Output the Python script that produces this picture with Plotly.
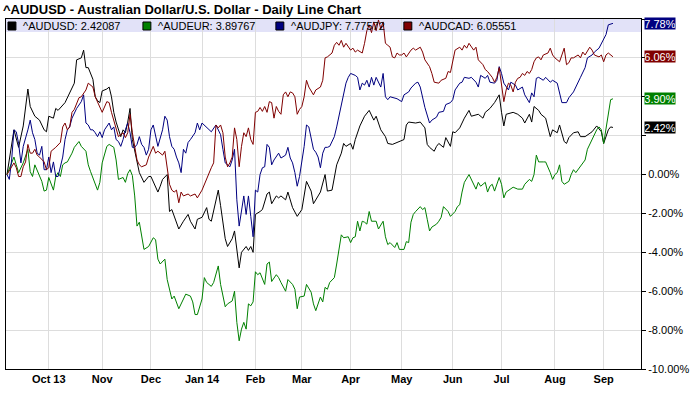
import plotly.graph_objects as go
import pandas as pd

# ---------------- data ----------------
start_date = "2013-09-05"
n_days = 262

month_ticks = ["2013-10", "2013-11", "2013-12", "2014-01", "2014-02", "2014-03",
               "2014-04", "2014-05", "2014-06", "2014-07", "2014-08", "2014-09"]
month_labels = ["Oct 13", "Nov", "Dec", "Jan 14", "Feb", "Mar",
                "Apr", "May", "Jun", "Jul", "Aug", "Sep"]

y_ticks = [-10, -8, -6, -4, -2, 0, 2, 4, 6, 8]
y_labels = ["-10.00%", "-8.00%", "-6.00%", "-4.00%", "-2.00%", "0.00%", "", "", "", ""]

names = ["^AUDUSD", "^AUDEUR", "^AUDJPY", "^AUDCAD"]
last_values = [2.42087, 3.89767, 7.77572, 6.05551]
colors = ["#000000", "#008000", "#000080", "#800000"]

# (trading-day index, % change)
audusd = [(0,0.0),(3,2.3),(5,1.4),(7,2.5),(9,4.4),(10,3.5),(12,3.0),(14,2.8),(16,2.3),(17,2.2),(18,3.0),(20,2.9),
          (21,3.4),(22,3.3),(25,3.7),(27,4.2),(29,4.7),(30,5.9),(32,6.0),(33,6.4),(34,5.5),(35,5.5),(36,5.2),(37,4.9),
          (38,4.0),(39,3.8),(40,3.7),(41,4.3),(43,4.4),(44,4.5),(45,4.0),(46,3.2),(47,2.7),(49,1.95),(50,2.3),(51,2.15),
          (52,2.7),(53,3.4),(54,1.8),(56,0.6),(57,0.1),(59,-0.4),(61,-0.1),(62,-0.1),(65,-0.9),(66,-0.6),(67,-0.25),
          (69,0.0),(70,-1.9),(71,-1.8),(74,-2.8),(76,-2.4),(78,-2.05),(79,-2.4),(81,-2.8),(82,-2.3),(84,-2.2),(86,-1.7),
          (87,-2.3),(88,-2.4),(91,-0.8),(92,-1.6),(94,-3.3),(95,-3.7),(97,-3.3),(98,-2.9),(100,-4.8),(101,-4.0),
          (103,-3.7),(104,-3.9),(105,-3.7),(106,-4.0),(107,-2.05),(109,-1.9),(110,-1.8),(112,-1.0),(113,-0.9),
          (114,-1.5),(116,-1.1),(117,-1.2),(118,-1.1),(120,-1.3),(121,-0.9),(123,-1.7),(125,-2.15),(127,-1.8),
          (129,-0.35),(131,-0.85),(132,-1.5),(134,-1.1),(135,-0.9),(137,0.0),(138,-0.85),(140,-0.8),(142,0.5),
          (144,1.1),(145,1.6),(146,1.45),(148,1.6),(149,1.3),(150,1.8),(152,2.5),(154,3.0),(156,3.3),(158,2.8),
          (159,3.0),(161,2.3),(163,1.95),(164,1.6),(166,1.55),(167,1.6),(169,1.7),(171,1.8),(172,2.55),(173,2.7),
          (176,2.65),(178,2.7),(179,2.55),(180,2.4),(181,1.55),(182,1.4),(184,1.2),(185,1.45),(186,1.6),(188,1.4),
          (189,1.9),(191,1.45),(192,2.2),(193,2.15),(195,2.4),(196,2.65),(197,2.9),(199,3.3),(200,3.0),(203,3.1),
          (205,2.9),(206,3.2),(208,3.4),(210,3.7),(212,4.1),(213,3.2),(214,2.5),(215,3.1),(218,3.2),(220,3.1),
          (222,2.9),(223,2.65),(225,3.1),(226,2.7),(227,3.5),(229,3.3),(230,3.1),(232,2.9),(234,1.95),(235,2.3),
          (237,2.15),(238,2.55),(240,1.7),(241,1.6),(242,1.9),(244,2.15),(246,2.2),(247,1.95),(249,1.95),(252,2.2),
          (254,2.5),(256,2.2),(257,1.6),(259,2.3),(260,2.45),(261,2.42087)]

audeur = [(0,0.0),(3,0.9),(4,0.5),(5,0.1),(7,0.6),(8,0.9),(9,1.3),(10,0.15),(11,-0.1),(12,0.5),(14,-0.1),(15,-0.35),
          (16,-0.85),(17,-0.8),(18,-0.15),(20,-0.8),(21,-0.1),(22,0.1),(23,-0.1),(24,0.5),(25,0.6),(26,0.65),(28,1.1),
          (29,1.4),(31,1.7),(32,1.45),(34,1.2),(35,0.5),(36,0.15),(37,-0.15),(39,-0.8),(40,-0.4),(41,0.6),(43,1.45),
          (44,1.55),(46,1.4),(47,0.75),(48,-0.25),(50,-0.15),(51,-0.4),(52,0.05),(53,0.25),(54,-0.05),(55,-1.1),
          (56,-2.65),(57,-2.45),(59,-3.85),(61,-3.7),(63,-3.25),(64,-3.35),(65,-4.35),(66,-4.6),(67,-4.45),(68,-4.35),
          (69,-5.4),(71,-6.4),(72,-6.25),(73,-6.55),(74,-6.9),(76,-6.4),(77,-6.15),(79,-6.25),(80,-6.55),(81,-7.2),
          (82,-7.2),(84,-6.4),(85,-5.3),(86,-5.55),(88,-5.75),(89,-5.55),(91,-4.7),(92,-5.65),(94,-6.8),(95,-6.65),
          (97,-6.5),(98,-6.0),(99,-7.6),(100,-8.55),(101,-7.95),(102,-7.6),(103,-7.95),(104,-6.65),(105,-6.75),
          (106,-6.55),(107,-5.0),(108,-5.15),(109,-5.05),(111,-5.65),(112,-4.6),(113,-4.5),(114,-5.5),(116,-5.15),
          (117,-5.3),(118,-5.55),(120,-6.0),(121,-5.4),(123,-5.65),(124,-5.9),(125,-6.9),(126,-6.3),(128,-6.25),
          (129,-5.65),(131,-6.05),(132,-6.65),(133,-7.0),(135,-6.3),(136,-6.55),(137,-5.8),(138,-5.9),(139,-5.55),
          (141,-5.3),(142,-4.6),(143,-3.85),(144,-3.1),(145,-3.25),(147,-3.2),(148,-3.5),(149,-3.25),(150,-3.2),
          (151,-2.4),(152,-2.9),(153,-2.4),(154,-2.45),(155,-2.55),(156,-1.9),(157,-2.4),(159,-2.4),(160,-2.8),
          (162,-2.4),(163,-3.2),(164,-3.6),(165,-3.5),(167,-3.75),(168,-3.5),(169,-3.85),(171,-3.85),(172,-3.45),
          (173,-3.5),(174,-2.45),(175,-2.05),(176,-1.9),(178,-1.65),(179,-1.8),(180,-1.7),(181,-2.3),(182,-2.9),
          (183,-2.7),(185,-2.55),(186,-2.4),(187,-2.2),(188,-1.65),(190,-1.9),(191,-2.15),(193,-1.9),(194,-1.65),
          (195,-1.55),(196,-0.9),(197,-0.4),(199,0.0),(200,-0.25),(202,-0.75),(203,-0.4),(204,-0.6),(206,-0.4),
          (207,-0.9),(208,-0.6),(209,-0.5),(210,-0.85),(212,-0.15),(213,-0.5),(214,-1.2),(215,-0.9),(217,-0.75),
          (218,-0.65),(220,-0.75),(222,-0.75),(223,-0.5),(224,-0.4),(225,-0.25),(226,-0.35),(227,0.0),(228,1.0),
          (229,0.65),(231,0.65),(232,0.65),(234,0.1),(235,-0.25),(236,0.0),(237,0.1),(238,0.5),(239,-0.35),
          (240,-0.5),(242,-0.35),(243,0.0),(244,0.25),(245,0.1),(247,0.4),(248,0.6),(249,0.75),(250,1.3),(252,1.8),
          (253,2.05),(254,2.3),(255,2.45),(256,2.3),(257,1.6),(258,2.4),(260,3.85),(261,3.89767)]

audjpy = [(0,0.0),(1,-0.25),(2,0.75),(3,2.3),(4,2.2),(5,1.6),(6,0.6),(7,1.45),(9,2.3),(10,2.8),(11,2.15),(12,1.8),
          (13,1.1),(14,1.0),(15,1.45),(16,0.25),(17,0.25),(18,0.9),(19,0.1),(20,0.65),(21,-0.1),(22,-0.1),(24,0.9),
          (25,1.8),(26,2.3),(27,2.45),(28,2.9),(29,3.2),(30,3.4),(32,3.75),(33,4.1),(34,2.65),(35,2.55),(36,2.3),
          (37,2.3),(38,2.15),(39,1.95),(40,2.2),(41,1.9),(42,2.3),(43,2.45),(44,2.65),(45,2.3),(46,2.45),(47,1.8),
          (48,1.7),(49,1.45),(50,1.8),(51,2.3),(52,2.65),(53,2.15),(54,1.4),(55,1.4),(56,1.55),(57,1.95),(58,1.55),
          (59,1.4),(60,1.0),(61,1.3),(62,2.3),(63,2.55),(64,1.95),(65,1.45),(67,2.3),(68,3.0),(69,2.8),(70,1.95),
          (71,1.45),(72,1.3),(73,0.9),(74,0.6),(75,0.1),(76,1.3),(77,1.1),(78,1.65),(79,1.8),(80,1.95),(81,2.15),
          (82,2.65),(83,2.3),(84,2.65),(86,2.4),(87,2.3),(88,2.2),(90,2.55),(91,2.3),(92,2.05),(93,1.3),(94,0.6),
          (96,0.4),(97,0.75),(98,1.3),(99,-1.3),(100,-2.65),(101,-1.8),(102,-1.1),(103,-2.05),(104,-1.1),(105,-2.15),
          (106,-3.2),(107,-0.8),(108,-0.9),(109,0.0),(110,0.35),(111,0.4),(112,1.55),(113,1.4),(114,0.5),(115,0.75),
          (116,0.9),(117,1.1),(118,0.85),(120,1.0),(121,1.4),(122,0.85),(123,0.6),(124,0.1),(125,-0.6),(126,-0.1),
          (128,1.45),(129,2.55),(130,2.45),(131,1.95),(132,1.3),(133,1.15),(134,0.9),(135,0.35),(136,1.1),(137,1.4),
          (138,1.4),(139,1.45),(141,1.95),(142,2.45),(143,3.0),(144,3.5),(145,4.1),(146,4.7),(147,5.0),(148,5.2),
          (150,5.1),(151,5.0),(152,4.35),(153,4.7),(154,4.6),(155,4.85),(156,4.5),(157,5.0),(158,4.6),(159,5.0),
          (161,4.5),(162,5.2),(163,4.0),(164,3.85),(165,4.0),(167,3.95),(168,3.9),(170,3.75),(171,4.1),(173,4.25),
          (174,4.45),(176,4.7),(177,4.75),(178,4.5),(179,3.95),(180,3.45),(182,2.65),(183,2.8),(185,2.95),(186,3.2),
          (188,3.25),(189,3.6),(191,3.7),(192,3.85),(193,4.35),(195,4.7),(196,4.75),(197,5.0),(199,4.95),(200,5.0),
          (202,4.75),(203,4.5),(204,5.1),(206,4.95),(207,5.1),(208,4.75),(210,4.7),(211,4.85),(212,5.55),(213,5.2),
          (214,4.7),(215,4.5),(216,4.35),(217,4.75),(219,4.6),(220,4.35),(222,4.5),(223,4.1),(225,3.7),(226,4.2),
          (227,4.0),(228,4.95),(229,5.0),(231,4.85),(232,5.0),(234,4.75),(235,4.85),(237,4.7),(238,4.25),(239,3.7),
          (241,3.7),(242,3.95),(244,4.25),(246,4.7),(247,5.0),(249,5.5),(250,6.0),(252,6.15),(253,6.3),(255,6.5),
          (256,6.75),(257,7.0),(258,7.2),(259,7.7),(260,7.75),(261,7.77572)]

audcad = [(0,0.0),(3,0.6),(4,0.35),(5,-0.1),(6,-0.1),(7,0.4),(8,0.65),(9,1.55),(10,1.1),(11,1.1),(12,1.3),(13,1.0),
          (14,0.9),(16,0.65),(17,0.25),(18,0.35),(19,1.2),(20,1.3),(21,1.4),(23,1.65),(24,2.45),(25,2.65),(26,2.3),
          (27,2.45),(28,3.2),(29,3.35),(31,3.95),(32,4.0),(34,4.35),(35,4.7),(37,4.5),(38,4.0),(39,3.75),(40,3.5),
          (41,3.2),(43,3.75),(44,3.7),(45,3.2),(46,2.8),(47,2.4),(48,1.95),(50,2.15),(51,1.9),(52,2.15),(53,3.1),
          (54,2.15),(55,1.45),(56,0.75),(57,0.5),(58,0.4),(60,0.5),(61,0.9),(63,1.45),(64,1.1),(65,1.2),(67,1.0),
          (68,1.2),(69,0.4),(70,-0.5),(71,-0.8),(72,-0.9),(73,-0.8),(74,-1.45),(75,-0.9),(76,-1.1),(78,-1.0),
          (79,-1.1),(81,-1.0),(82,-1.2),(84,-0.8),(85,-0.5),(86,-0.15),(88,0.35),(89,0.6),(90,2.55),(91,2.4),
          (92,2.55),(93,2.15),(94,0.9),(95,0.4),(96,0.6),(97,0.9),(98,2.4),(99,1.8),(100,0.4),(101,1.45),(102,2.15),
          (103,1.95),(104,2.4),(105,1.8),(106,1.55),(107,3.2),(108,3.25),(109,3.45),(110,3.25),(111,3.5),(112,3.2),
          (113,3.75),(114,3.7),(115,2.9),(116,3.5),(117,3.25),(118,3.1),(119,4.1),(120,4.25),(121,4.0),(122,4.25),
          (123,4.2),(124,4.0),(125,3.1),(126,3.35),(127,3.5),(128,4.0),(129,4.85),(130,4.5),(132,4.1),(133,4.35),
          (135,4.5),(136,4.85),(137,6.0),(138,6.05),(140,6.25),(141,6.65),(142,6.8),(143,6.65),(144,6.9),(145,6.55),
          (146,6.75),(148,6.4),(149,6.5),(150,6.3),(151,6.4),(153,6.25),(154,6.75),(155,7.4),(156,7.7),(157,7.3),
          (158,7.85),(159,7.4),(160,7.95),(161,7.5),(162,7.85),(163,6.75),(164,6.65),(165,6.55),(166,6.05),
          (167,6.0),(168,6.25),(169,6.15),(170,6.15),(171,6.25),(172,6.05),(174,6.4),(175,6.5),(176,6.4),(178,6.55),
          (179,6.3),(180,5.9),(182,5.55),(183,5.2),(184,4.75),(186,4.7),(187,4.85),(189,4.95),(190,5.3),(191,5.25),
          (192,5.75),(193,6.4),(195,6.55),(196,6.4),(197,6.65),(198,6.5),(199,6.75),(201,6.4),(202,6.55),(203,5.9),
          (205,5.65),(206,5.4),(207,5.3),(209,5.0),(210,4.75),(211,5.0),(212,5.5),(213,4.6),(214,3.75),(215,4.35),
          (216,4.7),(217,4.6),(218,4.25),(219,4.75),(220,4.95),(221,5.0),(222,5.2),(223,5.1),(224,5.3),(225,5.2),
          (226,5.4),(227,5.8),(228,6.0),(229,6.05),(230,5.9),(231,6.15),(233,6.25),(234,6.5),(235,6.15),(236,6.0),
          (238,5.8),(239,6.15),(240,6.5),(241,5.65),(242,5.75),(243,6.0),(244,6.0),(246,6.15),(247,6.0),(248,6.3),
          (249,6.15),(251,6.55),(252,6.4),(253,6.15),(255,6.05),(256,6.15),(257,5.8),(258,6.15),(259,6.25),
          (261,6.05551)]

series = [audusd, audeur, audjpy, audcad]

# ---------------- figure ----------------
FONT = "Liberation Sans, Arial, sans-serif"
dates = pd.bdate_range(start_date, periods=n_days)
periods = dates.to_period("M").astype(str)
tickvals = [int((periods == m).argmax()) for m in month_ticks]

fig = go.Figure()
for name, color, data in zip(names, colors, series):
    xs = [p[0] for p in data]
    ys = [p[1] for p in data]
    fig.add_trace(go.Scatter(x=xs, y=ys, mode="lines", name=name,
                             line=dict(color=color, width=1), showlegend=False,
                             hoverinfo="skip"))

W, H = 694, 393
L, R, T, B = 5, 49, 19, 24
PW, PH = W - L - R, H - T - B


def px(xp):
    return (xp - L) / PW


def py(yp):
    return (H - B - yp) / PH


# legend band drawn in data coordinates of the plot, semi-transparent so gridlines show through
shapes = [dict(type="rect", xref="paper", yref="paper", x0=0, x1=1, y0=py(32), y1=1,
               fillcolor="rgba(210,210,245,0.65)", line=dict(width=0), layer="below")]
annotations = []
legend_sq_x = [7, 143, 277, 406]
for name, color, val, sx in zip(names, colors, last_values, legend_sq_x):
    shapes.append(dict(type="rect", xref="paper", yref="paper", x0=px(sx), x1=px(sx + 8),
                       y0=py(30), y1=py(22), fillcolor=color, line=dict(color="#000000", width=1)))
    annotations.append(dict(xref="paper", yref="paper", x=px(sx + 13), y=py(25.5), xanchor="left",
                            yanchor="middle", showarrow=False, text=f"{name}: {val:.5f}",
                            font=dict(family=FONT, size=11, color="#000000")))
    annotations.append(dict(xref="paper", yref="y", x=1, y=val, xanchor="left", yanchor="middle",
                            xshift=3, showarrow=False, text=f"{val:.2f}%", bgcolor=color,
                            borderpad=0, width=30, height=11,
                            font=dict(family=FONT, size=11, color="#FFFFFF")))

fig.update_layout(
    width=W, height=H,
    margin=dict(l=L, r=R, t=T, b=B),
    paper_bgcolor="#FFFFFF", plot_bgcolor="rgba(0,0,0,0)",
    title=dict(text="<b>^AUDUSD - Australian Dollar/U.S. Dollar - Daily Line Chart</b>",
               x=3 / W, xanchor="left", xref="container", y=1 - 9 / H, yanchor="middle",
               yref="container", font=dict(family=FONT, size=13, color="#000000")),
    xaxis=dict(range=[(L - 6) / 2.34, (W - R - 6) / 2.34], tickvals=tickvals, ticktext=month_labels,
               showgrid=True, gridcolor="#DDDDDD", gridwidth=1, showline=True, linecolor="#000000",
               linewidth=1, mirror=True, ticks="", zeroline=False,
               tickfont=dict(family=FONT, size=11, color="#000000", weight="bold")),
    yaxis=dict(side="right", range=[-10, 8], tickvals=y_ticks, ticktext=y_labels,
               ticks="outside", ticklen=4, tickcolor="#000000", tickwidth=1,
               showgrid=True, gridcolor="#DDDDDD", gridwidth=1, showline=True, linecolor="#000000",
               linewidth=1, mirror=True, zeroline=False,
               tickfont=dict(family=FONT, size=11, color="#000000")),
    shapes=shapes,
    annotations=annotations,
)

fig.write_html("out.html", config={"displayModeBar": False},
               post_script="document.body.style.margin='0';document.body.style.overflow='hidden';")
